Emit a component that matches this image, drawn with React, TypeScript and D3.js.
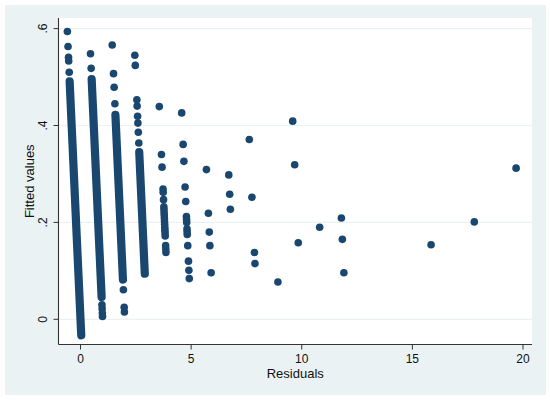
import * as d3 from "d3";

// observed counts; every point sits at residual = count - fitted
const counts = [0, 1, 2, 3, 4, 5, 6, 7, 8, 9, 10, 11, 12, 16, 18, 20];

// fitted values of the separate dots, one list per count
const fitted0 = [0.594, 0.563, 0.541, 0.533, 0.51];
const fitted1 = [0.548, 0.518, 0.03, 0.022, 0.013, 0.006];
const fitted2 = [0.566, 0.507, 0.479, 0.445, 0.061, 0.025, 0.015];
const fitted3 = [0.545, 0.524, 0.453, 0.44, 0.419, 0.405, 0.386, 0.364];
const fitted4 = [
  0.439, 0.34, 0.314, 0.269, 0.262, 0.247, 0.232, 0.226, 0.22, 0.214, 0.208,
  0.202, 0.196, 0.19, 0.184, 0.178, 0.172, 0.152, 0.145, 0.138,
];
const fitted5 = [
  0.426, 0.361, 0.326, 0.273, 0.243, 0.212, 0.206, 0.2, 0.187, 0.181, 0.175,
  0.152, 0.12, 0.101, 0.084,
];
const fitted6 = [0.309, 0.219, 0.18, 0.152, 0.096];
const fitted7 = [0.298, 0.258, 0.227];
const fitted8 = [0.371, 0.252, 0.138, 0.115];
const fitted9 = [0.077];
const fitted10 = [0.409, 0.319, 0.158];
const fitted11 = [0.19];
const fitted12 = [0.209, 0.165, 0.096];
const fitted16 = [0.154];
const fitted18 = [0.201];
const fitted20 = [0.312];

const sparse = [
  fitted0, fitted1, fitted2, fitted3, fitted4, fitted5, fitted6, fitted7,
  fitted8, fitted9, fitted10, fitted11, fitted12, fitted16, fitted18, fitted20,
];

// runs where the dots overlap into a solid band
const denseCounts = [0, 1, 2, 3];
const denseTop = [0.491, 0.496, 0.422, 0.345];
const denseBottom = [-0.033, 0.046, 0.082, 0.094];

const xTicks = [0, 5, 10, 15, 20];
const yTicks = [0, 0.2, 0.4, 0.6];
const yTickLabels = ["0", ".2", ".4", ".6"];

const W = 550;
const H = 402;
const plotL = 58.5;
const plotR = 532;
const plotT = 18;
const plotB = 344.5;
const navy = "#1a476f";
const bg = "#eaf2f3";
const font = "'Liberation Sans', Arial, Helvetica, sans-serif";
const r = 3.8;

export default function App() {
  const x = d3.scaleLinear().domain([0, 20]).range([80.5, 523]);
  const y = d3.scaleLinear().domain([0, 0.6]).range([319.3, 28.6]);

  const dots = counts.flatMap((c, i) =>
    sparse[i].map((f) => ({ rx: c - f, f }))
  );

  return (
    <svg
      width={W}
      height={H}
      style={{ position: "absolute", left: 0, top: 0 }}
      fontFamily={font}
    >
      <rect width={W} height={H} fill="#ffffff" />
      <rect x={5} y={5} width={541} height={390} fill={bg} />
      <rect
        x={plotL}
        y={plotT}
        width={plotR - plotL}
        height={plotB - plotT}
        fill="#ffffff"
      />

      {/* grid */}
      {yTicks.map((t) => (
        <line
          key={"g" + t}
          x1={plotL}
          x2={plotR}
          y1={y(t)}
          y2={y(t)}
          stroke={bg}
          strokeWidth={1.2}
        />
      ))}

      {/* dense bands */}
      {denseCounts.map((c, i) => (
        <line
          key={"d" + c}
          x1={x(c - denseTop[i])}
          y1={y(denseTop[i])}
          x2={x(c - denseBottom[i])}
          y2={y(denseBottom[i])}
          stroke={navy}
          strokeWidth={r * 2 + 0.6}
          strokeLinecap="round"
        />
      ))}

      {dots.map((d, i) => (
        <circle key={i} cx={x(d.rx)} cy={y(d.f)} r={r} fill={navy} />
      ))}

      {/* axes */}
      <line x1={plotL} x2={plotL} y1={plotT} y2={plotB} stroke="#333" strokeWidth={1.1} />
      <line x1={plotL} x2={plotR} y1={plotB} y2={plotB} stroke="#333" strokeWidth={1.1} />

      {yTicks.map((t, i) => (
        <g key={"y" + t}>
          <line x1={plotL - 5} x2={plotL} y1={y(t)} y2={y(t)} stroke="#333" />
          <text
            transform={`translate(47,${y(t)}) rotate(-90)`}
            textAnchor="middle"
            fontSize={12}
            fill="#111"
          >
            {yTickLabels[i]}
          </text>
        </g>
      ))}

      {xTicks.map((t) => (
        <g key={"x" + t}>
          <line x1={x(t)} x2={x(t)} y1={plotB} y2={plotB + 5} stroke="#333" />
          <text x={x(t)} y={363} textAnchor="middle" fontSize={12} fill="#111">
            {t}
          </text>
        </g>
      ))}

      <text
        x={(plotL + plotR) / 2}
        y={378}
        textAnchor="middle"
        fontSize={13}
        fill="#111"
      >
        Residuals
      </text>
      <text
        transform={`translate(34,${(plotT + plotB) / 2}) rotate(-90)`}
        textAnchor="middle"
        fontSize={13}
        fill="#111"
      >
        Fitted values
      </text>
    </svg>
  );
}
